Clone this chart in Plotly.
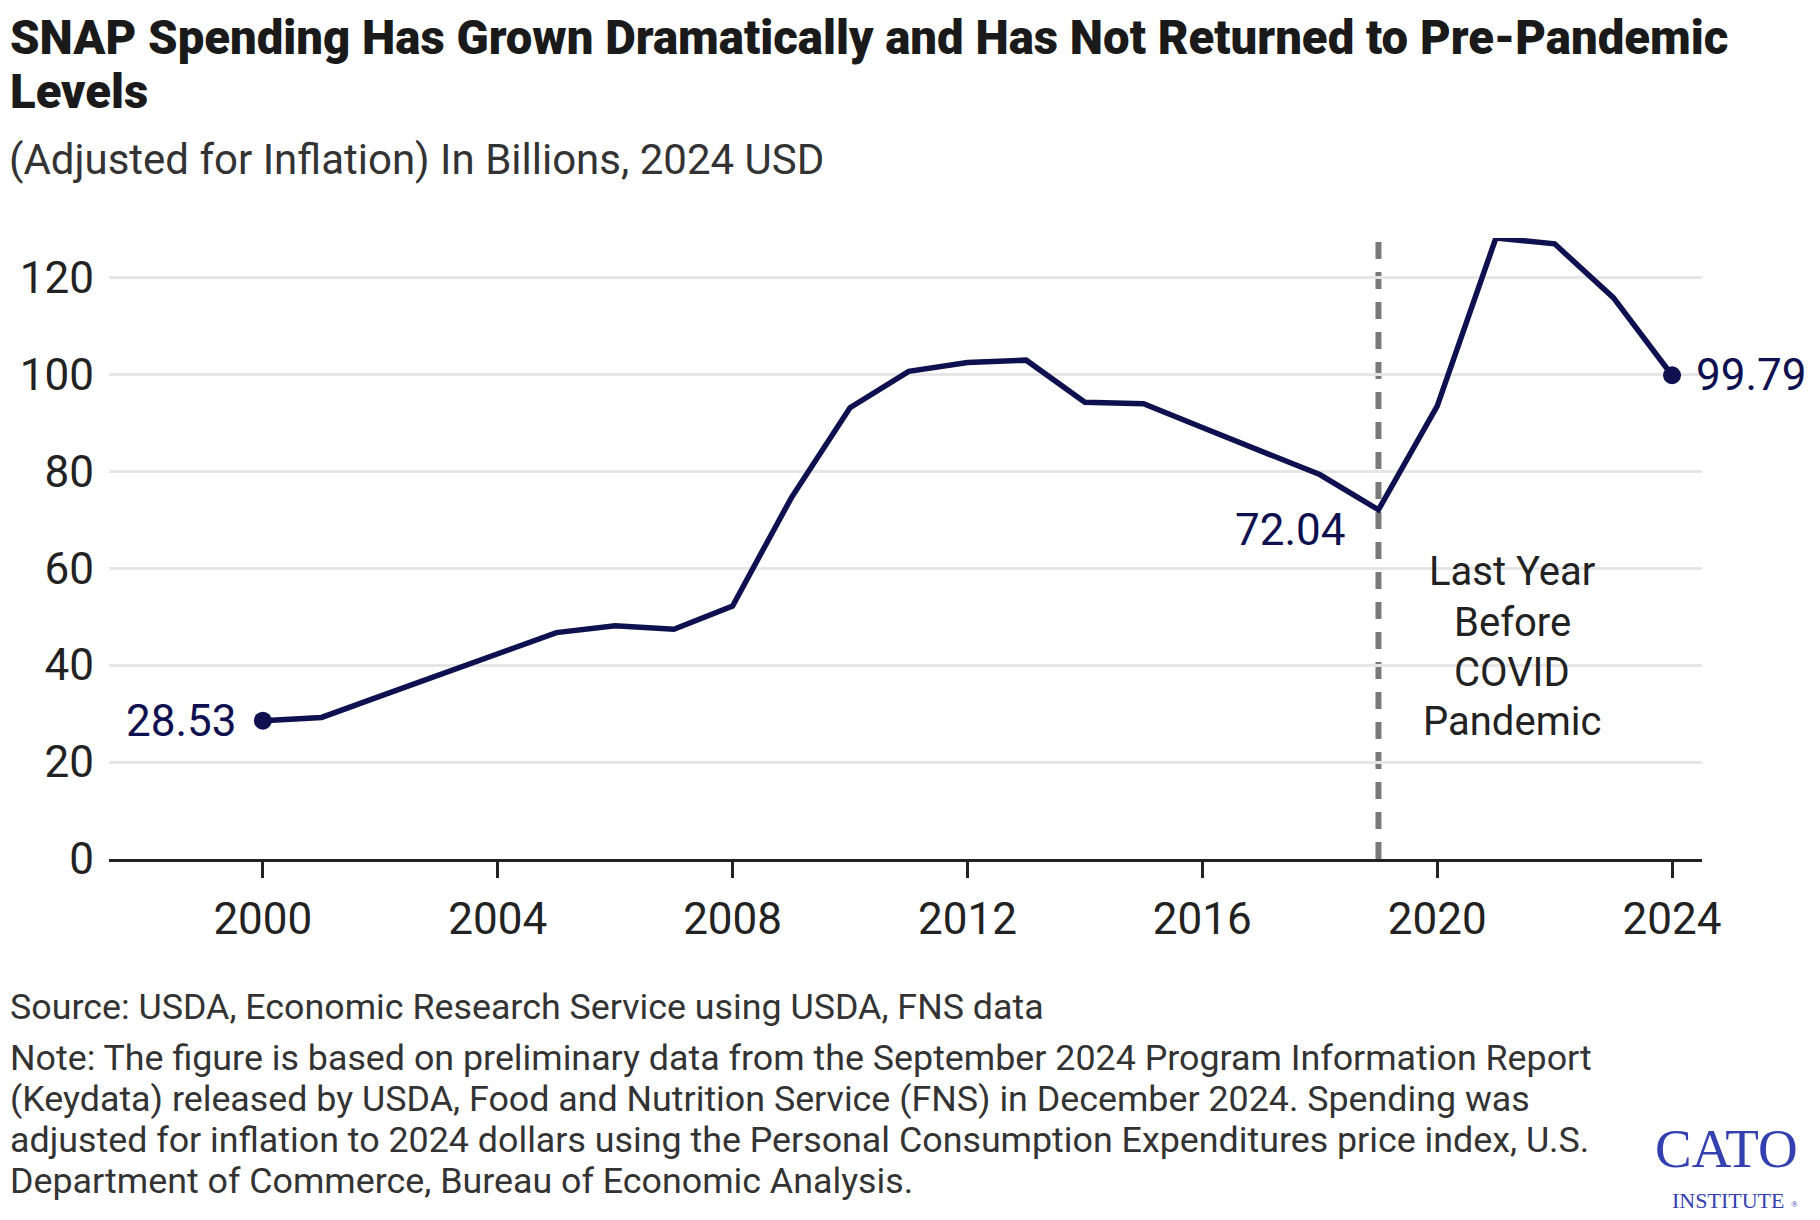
import plotly.graph_objects as go

# ---------------- data ----------------
years = list(range(2000, 2025))
spending = [28.53, 29.2, 33.6, 38.0, 42.4, 46.7, 48.1, 47.4, 52.2, 74.5,
            93.1, 100.6, 102.4, 102.9, 94.2, 93.9, 89.0, 84.1, 79.3, 72.04,
            93.4, 128.1, 126.9, 115.8, 99.79]
x_ticks = [2000, 2004, 2008, 2012, 2016, 2020, 2024]
y_ticks = [0, 20, 40, 60, 80, 100, 120]
covid_year = 2019
covid_lines = ["Last Year", "Before", "COVID", "Pandemic"]

title_lines = ["SNAP Spending Has Grown Dramatically and Has Not Returned to Pre-Pandemic",
               "Levels"]
subtitle_text = "(Adjusted for Inflation) In Billions, 2024 USD"
source_text = "Source: USDA, Economic Research Service using USDA, FNS data"
note_lines = [
    "Note: The figure is based on preliminary data from the September 2024 Program Information Report",
    "(Keydata) released by USDA, Food and Nutrition Service (FNS) in December 2024. Spending was",
    "adjusted for inflation to 2024 dollars using the Personal Consumption Expenditures price index, U.S.",
    "Department of Commerce, Bureau of Economic Analysis.",
]

# ---------------- layout constants (screen pixels) ----------------
OFF = 8                      # page body margin
W, H = 1820 - OFF, 1220 - OFF
PL, PR, PT, PB = 102, 1701.6, 238, 859.3   # plot area on screen
L, R, T, B = PL - OFF, W - (PR - OFF), PT - OFF, H - (PB - OFF)
NAVY = "#0f1050"
DARK = "#222222"
LOGO = "#3440b0"
FONT = "Roboto, 'Liberation Sans', Arial, sans-serif"
SERIF = "'Liberation Serif', 'DejaVu Serif', serif"


def px(x, y):
    """screen pixel position -> paper coords"""
    return (x - PL) / (PR - PL), (PB - y) / (PB - PT)


def text_at(x, y, text, size, color, xanchor="left", family=FONT, weight=None):
    ax, ay = px(x, y)
    f = dict(size=size, color=color, family=family)
    if weight:
        f["weight"] = weight
    return dict(x=ax, y=ay, xref="paper", yref="paper", text=text, showarrow=False,
                xanchor=xanchor, yanchor="middle", align=xanchor if xanchor != "center" else "center",
                font=f)


fig = go.Figure()

fig.add_trace(go.Scatter(
    x=years, y=spending, mode="lines",
    line=dict(color=NAVY, width=5.5), hoverinfo="skip", showlegend=False))

ends_x = [years[0], years[-1]]
ends_y = [spending[0], spending[-1]]
fig.add_trace(go.Scatter(
    x=ends_x, y=ends_y, mode="markers",
    marker=dict(color=NAVY, size=18), hoverinfo="skip", showlegend=False))

# dashed vertical line
fig.add_shape(type="line", xref="x", yref="paper", x0=covid_year, x1=covid_year,
              y0=0, y1=1, line=dict(color="#7a7a7a", width=6, dash="17px,13px"), layer="below")

annotations = []
# value labels
annotations.append(dict(x=years[0], y=spending[0], xref="x", yref="y",
                        text=f"{spending[0]:.2f}", showarrow=False, xanchor="right", yanchor="middle",
                        xshift=-24, font=dict(size=44, color=NAVY, family=FONT)))
annotations.append(dict(x=years[-1], y=spending[-1], xref="x", yref="y",
                        text=f"{spending[-1]:.2f}", showarrow=False, xanchor="left", yanchor="middle",
                        xshift=22, font=dict(size=44, color=NAVY, family=FONT)))
i19 = years.index(covid_year)
annotations.append(dict(x=years[i19], y=spending[i19], xref="x", yref="y",
                        text=f"{spending[i19]:.2f}", showarrow=False, xanchor="right", yanchor="middle",
                        xshift=-30, yshift=-20, font=dict(size=44, color=NAVY, family=FONT)))
# covid text
for line, yy in zip(covid_lines, [572, 623, 673, 722]):
    annotations.append(text_at(1511, yy, line, 40, DARK, xanchor="center"))
# title / subtitle
for line, yy in zip(title_lines, [38, 92]):
    annotations.append(text_at(1, yy, line, 47.3, "#1a1a1a", weight=900))
annotations.append(text_at(0, 159, subtitle_text, 42, "#333333"))
# footer
annotations.append(text_at(1, 1007, source_text, 35.8, "#333333"))
for line, yy in zip(note_lines, [1058, 1099, 1140, 1181]):
    annotations.append(text_at(1, yy, line, 35.8, "#333333"))
# CATO logo (text)
annotations.append(text_at(1726, 1149, "CATO", 55, LOGO, xanchor="center", family=SERIF))
annotations.append(text_at(1728, 1201, "INSTITUTE", 22, LOGO, xanchor="center", family=SERIF))
annotations.append(text_at(1794, 1204, "®", 9, LOGO, xanchor="center", family=SERIF))

fig.update_layout(
    width=W, height=H,
    margin=dict(l=L, r=R, t=T, b=B, pad=0),
    paper_bgcolor="white", plot_bgcolor="white",
    annotations=annotations,
    showlegend=False,
    font=dict(family=FONT, color=DARK),
)

fig.update_xaxes(
    range=[1997.38, 2024.51], tickmode="array", tickvals=x_ticks,
    ticktext=[str(v) for v in x_ticks],
    showgrid=False, zeroline=False,
    showline=True, linecolor=DARK, linewidth=3,
    ticks="outside", ticklen=16, tickwidth=3, tickcolor=DARK,
    tickfont=dict(size=44, color=DARK, family=FONT),
    ticklabelstandoff=3,
)
fig.update_yaxes(
    range=[0, 128.1], tickmode="array", tickvals=y_ticks,
    showgrid=True, gridcolor="#e6e6e6", gridwidth=2.5, zeroline=False,
    showline=False, ticks="",
    tickfont=dict(size=44, color=DARK, family=FONT),
    ticklabelstandoff=14,
)

fig.write_html("out.html")
